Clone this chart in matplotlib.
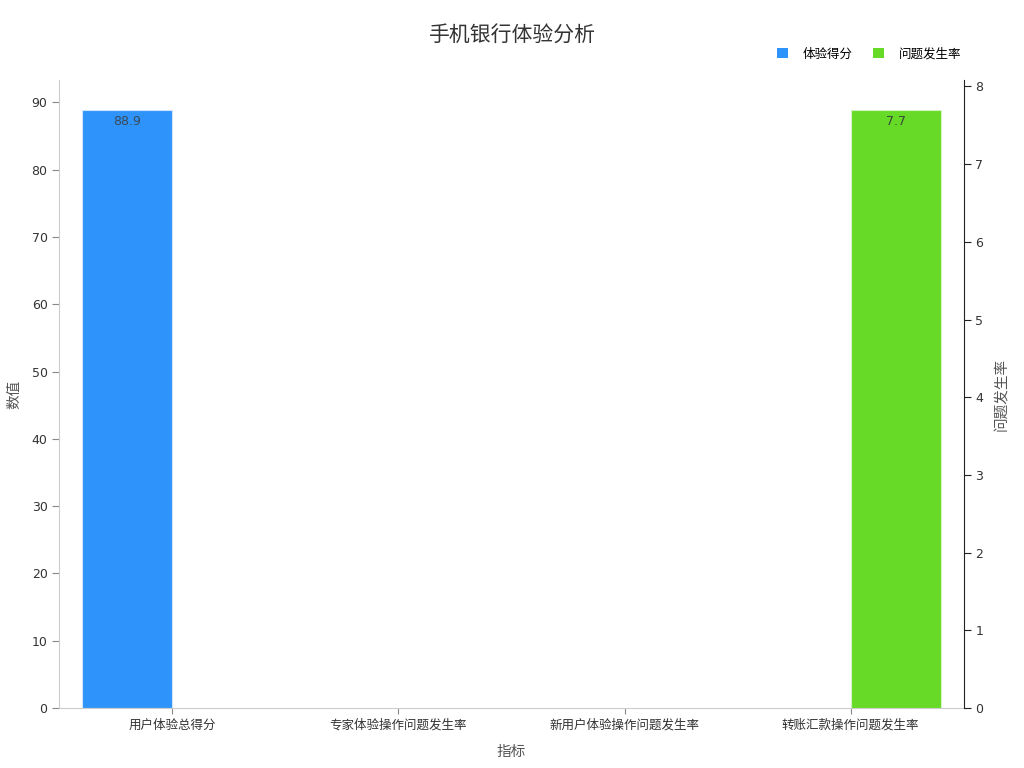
import matplotlib
matplotlib.use("Agg")
import matplotlib.pyplot as plt
import numpy as np
from matplotlib.patches import Patch

plt.rcParams['font.family'] = ['DejaVu Sans', 'Noto Sans CJK SC']

categories = ["用户体验总得分", "专家体验操作问题发生率", "新用户体验操作问题发生率", "转账汇款操作问题发生率"]
score_values = [88.9, None, None, None]
rate_values = [None, None, None, 7.7]
series_names = ["体验得分", "问题发生率"]
title = "手机银行体验分析"

blue = "#2E93FA"
green = "#66DA26"

fig = plt.figure(figsize=(10.24, 7.68), dpi=100)
ax = fig.add_axes([0.058, 0.078, 0.883, 0.818])
ax2 = ax.twinx()

x = np.arange(len(categories))
w = 0.4

for i, v in enumerate(score_values):
    if v is not None:
        ax.bar(x[i] - w / 2, v, width=w, color=blue, edgecolor="#cfe4fb", linewidth=0.8)
        ax.text(x[i] - w / 2, v - 0.8, f"{v}", ha="center", va="top", fontsize=9, color="#3a4a5a")
for i, v in enumerate(rate_values):
    if v is not None:
        ax2.bar(x[i] + w / 2, v, width=w, color=green, edgecolor="#d3f3c2", linewidth=0.8)
        ax2.text(x[i] + w / 2, v - 0.07, f"{v}", ha="center", va="top", fontsize=9, color="#3a4a3a")

smax = max(v for v in score_values if v is not None)
rmax = max(v for v in rate_values if v is not None)
ax.set_xlim(-0.5, 3.5)
ax.set_ylim(0, smax * 1.05)
ax2.set_ylim(0, rmax * 1.05)
ax.set_yticks(np.arange(0, 91, 10))
ax2.set_yticks(np.arange(0, 9, 1))
ax.set_xticks(x)
ax.set_xticklabels(categories, fontsize=9, color="#333333")

for s in ["top", "right"]:
    ax.spines[s].set_visible(False)
ax2.spines["top"].set_visible(False)
ax2.spines["left"].set_visible(False)
ax2.spines["bottom"].set_visible(False)
ax.spines["left"].set_color("#cccccc")
ax.spines["bottom"].set_color("#cccccc")
ax2.spines["right"].set_color("#222222")

ax.tick_params(axis="y", colors="#888888", labelcolor="#333333", labelsize=9, length=5)
ax.tick_params(axis="x", colors="#888888", labelcolor="#333333", labelsize=9, length=4)
ax2.tick_params(axis="y", colors="#222222", labelcolor="#333333", labelsize=9, length=5)

ax.set_xlabel("指标", fontsize=10.5, color="#555555", labelpad=9)
ax.set_ylabel("数值", fontsize=10.5, color="#555555", labelpad=7)
ax2.set_ylabel("问题发生率", fontsize=10.5, color="#555555", labelpad=8, rotation=90)

fig.suptitle(title, fontsize=15, color="#333333", y=0.967)

handles = [Patch(facecolor=blue, label=series_names[0]), Patch(facecolor=green, label=series_names[1])]
fig.legend(handles=handles, loc="upper right", bbox_to_anchor=(0.95, 0.953), ncol=2, frameon=False,
           fontsize=9, handlelength=0.9, handleheight=0.9, columnspacing=1.6, handletextpad=1.2)

fig.savefig("out.png", dpi=100)
